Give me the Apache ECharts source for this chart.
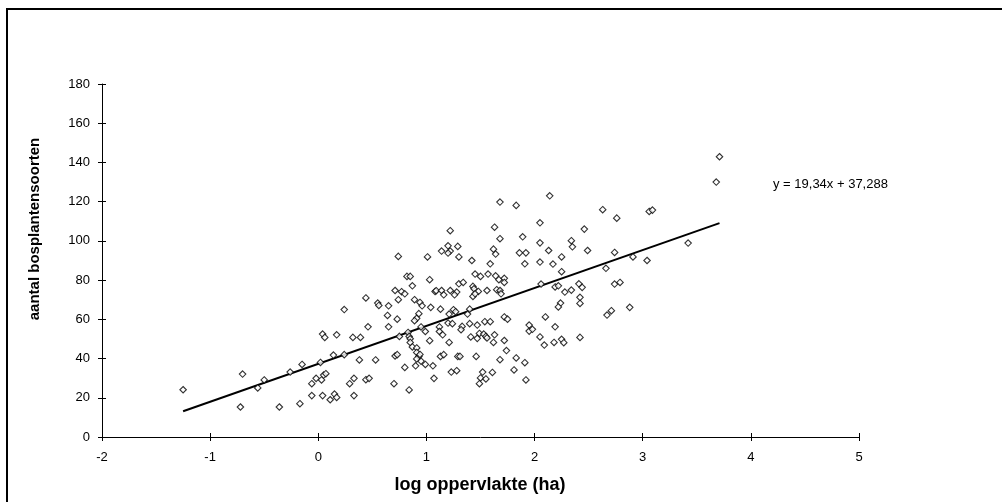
<!DOCTYPE html>
<html>
<head>
<meta charset="utf-8">
<script src="https://cdn.jsdelivr.net/npm/echarts@6/dist/echarts.min.js"></script>
<style>html,body{margin:0;padding:0;background:#fff}#c{width:1002px;height:502px}</style>
</head>
<body>
<div id="c"></div>
<script>
// log area (ha) values
var xValues = [-1.25,-0.70,-0.72,-0.56,-0.50,-0.36,-0.26,-0.17,-0.15,-0.06,-0.06,-0.02,0.02,0.03,0.04,0.04,0.06,0.05,0.07,0.11,0.14,0.15,0.17,0.17,0.24,0.24,0.29,0.32,0.33,0.33,0.38,0.39,0.44,0.44,0.47,0.46,0.53,0.55,0.56,0.64,0.65,0.65,
0.74,0.71,0.74,0.73,0.75,0.71,0.73,0.70,
1.63,1.22,1.68,1.89,1.20,1.29,1.14,1.22,1.20,1.62,1.64,1.86,1.92,1.01,1.30,1.42,1.59,1.91,1.03,0.82,0.85,0.87,0.77,0.80,1.08,1.09,1.14,1.22,1.16,1.30,1.34,1.28,1.26,1.43,1.44,1.45,1.50,1.57,1.64,1.67,1.72,1.72,1.48,1.56,1.65,1.68,1.69,1.43,1.45,0.89,0.94,0.96,1.04,1.13,1.25,1.27,1.40,1.38,1.21,0.93,0.91,0.89,0.95,0.99,1.12,1.12,1.15,1.20,1.24,1.33,1.32,1.40,1.47,1.54,1.59,1.72,1.75,1.95,1.95,0.83,0.84,0.85,0.85,1.03,1.41,1.47,1.49,1.53,1.55,1.56,1.63,1.62,1.72,1.21,0.87,0.91,0.91,0.93,0.94,0.95,0.99,0.91,0.90,0.80,1.06,1.13,1.16,1.29,1.31,1.46,1.74,1.68,1.83,1.91,1.81,1.07,1.23,1.28,1.52,1.50,1.55,1.49,1.61,1.92,0.84,
2.14,1.83,1.68,2.63,2.76,3.06,2.05,2.46,2.05,2.34,2.35,2.13,2.49,2.74,2.91,3.04,2.25,2.05,2.17,2.66,2.25,2.06,2.19,2.22,2.28,2.34,2.41,2.44,2.74,2.79,2.42,2.42,2.24,2.22,2.88,2.71,2.67,2.10,1.98,2.19,2.05,2.09,2.18,2.25,2.27,2.42,
3.71,3.68,3.09,3.42];
// number of forest plant species
var yValues = [24.1,32.1,15.3,25.0,29.1,15.3,33.1,17.0,37.0,27.2,21.1,29.9,38.0,29.1,21.1,52.5,50.8,31.6,32.3,19.0,41.8,21.9,20.2,52.1,65.0,42.0,27.2,50.8,29.9,21.1,39.3,50.8,70.9,29.2,29.9,56.2,39.3,68.3,67.1,62.0,56.2,66.9,
92.1,74.7,70.0,60.1,51.3,41.3,42.0,27.2,
107.0,105.2,101.1,102.1,97.5,97.2,94.8,94.8,93.8,95.8,93.3,93.9,93.9,91.8,91.8,90.0,88.3,88.3,80.2,81.9,81.9,77.1,74.1,73.0,74.2,74.6,74.7,74.7,72.5,78.1,78.8,73.9,72.5,76.8,75.6,83.1,81.9,83.1,82.2,80.2,80.9,78.8,74.2,74.7,75.1,74.7,73.0,71.7,73.0,70.0,68.6,66.9,66.1,65.2,64.9,63.9,65.2,62.7,62.7,62.9,60.5,59.3,56.1,53.8,56.1,53.8,52.1,58.1,57.8,56.4,54.7,57.8,57.1,58.8,58.8,61.2,60.1,57.1,54.0,53.3,51.3,50.1,48.2,49.1,51.0,50.3,52.8,52.5,51.3,50.5,52.1,48.2,49.2,48.2,45.9,45.4,43.1,41.1,42.1,38.7,37.0,39.8,36.3,35.5,36.3,41.1,42.0,41.1,41.1,41.1,44.1,39.4,40.3,37.9,34.2,29.9,33.1,33.8,33.1,30.1,29.6,27.2,32.9,29.1,24.0,
123.0,118.1,119.8,115.9,111.6,115.0,109.2,106.0,99.0,100.1,97.0,95.1,95.1,94.1,91.8,90.0,91.8,89.2,88.2,86.0,84.3,78.0,76.5,77.1,73.9,74.9,78.1,76.3,78.0,78.8,71.2,68.1,68.3,66.3,66.1,64.4,62.2,61.2,54.9,56.2,51.0,46.9,48.2,49.8,48.1,50.8,
142.9,130.0,115.7,98.9];
var slope = 19.34;
var intercept = 37.288;
var equationLabel = 'y = 19,34x + 37,288';
var xTitle = 'log oppervlakte (ha)';
var yTitle = 'aantal bosplantensoorten';
var xTicks = {min: -2, max: 5, interval: 1};
var yTicks = {min: 0, max: 180, interval: 20};

var points = xValues.map(function (x, i) { return [x, yValues[i]]; });
var xmin = Math.min.apply(null, xValues), xmax = Math.max.apply(null, xValues);
var trend = [[xmin, slope * xmin + intercept], [xmax, slope * xmax + intercept]];

var font = 'Liberation Sans, Arial, sans-serif';
function xa(inside, show) {
  return {type: 'value', min: xTicks.min, max: xTicks.max, interval: xTicks.interval, position: 'bottom',
    axisLine: {show: show, onZero: false, lineStyle: {color: '#000', width: 1}},
    axisTick: {show: true, inside: inside, length: 4, lineStyle: {color: '#000'}},
    axisLabel: {show: show, color: '#000', fontFamily: font, fontSize: 13, margin: 14},
    splitLine: {show: false}};
}
function ya(inside, show) {
  return {type: 'value', min: yTicks.min, max: yTicks.max, interval: yTicks.interval, position: 'left',
    axisLine: {show: show, onZero: false, lineStyle: {color: '#000', width: 1}},
    axisTick: {show: true, inside: inside, length: 4, lineStyle: {color: '#000'}},
    axisLabel: {show: show, color: '#000', fontFamily: font, fontSize: 13, margin: 12},
    splitLine: {show: false}};
}
var chart = echarts.init(document.getElementById('c'), null, {renderer: 'canvas'});
chart.setOption({
  animation: false,
  backgroundColor: '#fff',
  grid: {left: 102, right: 143, top: 84, bottom: 65, containLabel: false},
  xAxis: [xa(false, true), xa(true, false)],
  yAxis: [ya(false, true), ya(true, false)],
  series: [
    {type: 'line', data: trend, symbol: 'none', lineStyle: {color: '#000', width: 2}, z: 1},
    {type: 'scatter', data: points, symbol: 'diamond', symbolSize: 6.5,
     itemStyle: {color: '#fff', borderColor: '#000', borderWidth: 1.1}, z: 2}
  ],
  graphic: [
    {type: 'rect', shape: {x: 7, y: 9, width: 1100, height: 600}, style: {fill: null, stroke: '#000', lineWidth: 2}, silent: true},
    {type: 'text', x: 773, y: 184, style: {text: equationLabel, font: '13px ' + font, fill: '#000', align: 'left', verticalAlign: 'middle'}},
    {type: 'text', x: 480, y: 485, style: {text: xTitle, font: 'bold 18px ' + font, fill: '#000', align: 'center', verticalAlign: 'middle'}},
    {type: 'text', x: 35, y: 229, rotation: Math.PI / 2, style: {text: yTitle, font: 'bold 15px ' + font, fill: '#000', align: 'center', verticalAlign: 'middle'}}
  ]
});
</script>
</body>
</html>
